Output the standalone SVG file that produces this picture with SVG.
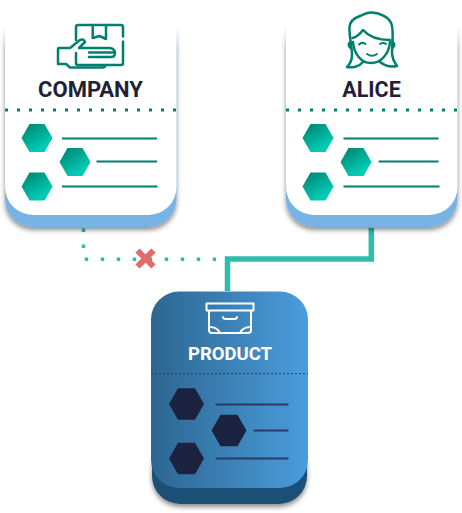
<svg xmlns="http://www.w3.org/2000/svg" width="462" height="513" viewBox="0 0 462 513">
<style>
.t{font-family:Roboto,"Liberation Sans",sans-serif;font-weight:700;text-anchor:middle}
.ic{fill:none;stroke:#007f6f;stroke-linecap:round;stroke-linejoin:round}
.ln{stroke:#007f6f;stroke-width:2;fill:none}
.dln{stroke:#2b3a62;stroke-width:2;fill:none}
.dot{stroke:#007f6f;stroke-width:3;stroke-dasharray:3 9;fill:none}
.wi{fill:none;stroke:#fff;stroke-width:2;stroke-linecap:round;stroke-linejoin:round}
</style>
<defs>
<linearGradient id="hx" x1="0.15" y1="0" x2="0.8" y2="1"><stop offset="0" stop-color="#008470"/><stop offset="0.8" stop-color="#00c9b5"/></linearGradient>
<linearGradient id="pr" x1="0" y1="0" x2="1" y2="0"><stop offset="0" stop-color="#2d6690"/><stop offset="1" stop-color="#4a9ddd"/></linearGradient>
<linearGradient id="fade" x1="0" y1="0" x2="0" y2="1"><stop offset="0.5" stop-color="#fff"/><stop offset="1" stop-color="#fff" stop-opacity="0"/></linearGradient>
<filter id="sh" x="-15%" y="-15%" width="130%" height="130%"><feDropShadow dx="0" dy="3" stdDeviation="2.5" flood-color="#000" flood-opacity="0.45"/></filter>
<polygon id="h" points="-15.5,0 -7.5,-14 7.5,-14 15.5,0 7.5,14 -7.5,14"/>
<polygon id="dh" points="-17.5,0 -8.5,-15.7 8.5,-15.7 17.5,0 8.500,15.7 -8.5,15.7"/>
</defs>

<g id="connectors">
<path d="M83.500 228.500V259.300H216" fill="none" stroke="#2dbdaa" stroke-width="3.500" stroke-dasharray="3.500 12.500"/>
<path d="M227.500 291V259H371.300V228" fill="none" stroke="#2dbdaa" stroke-width="5.500"/>
<path d="M137.500 250.500L153.500 266.500M153.500 250.500L137.500 266.500" stroke="#e26a6a" stroke-width="6" fill="none"/>
</g>

<g id="company">
<rect x="5" y="-10" width="171.500" height="237" rx="28" fill="#78b3e6" filter="url(#sh)"/>
<rect x="5" y="-10" width="171.500" height="225" rx="28" fill="#fff"/>
<rect x="0" y="0" width="182" height="50" fill="url(#fade)"/>
<rect x="4" y="-2" width="174" height="4" fill="#fff"/>
<g class="ic" stroke-width="2.500">
<path d="M76 40V27Q76 25 78 25H121Q123 25 123 27V36.500M123 41.500V63Q123 65 121 65H78Q76 65 76 63V53"/>
<path d="M92.700 25V38L99.500 36L106 39V25"/>
<path d="M58 64V49Q58 48 59 48H70L80 40Q84 38.500 85 42L79 48H110Q115 49 115 53Q115 57 111 57H89M89 52.500H113M58 64H66L70 67.500H102Q105.500 67.500 105.500 65"/>
</g>
<text class="t" x="90.500" y="97" font-size="22" fill="#221f3a">COMPANY</text>
<path class="dot" d="M5 110H177"/>
<use href="#h" x="37" y="138" fill="url(#hx)"/>
<use href="#h" x="75" y="162" fill="url(#hx)"/>
<use href="#h" x="37" y="186.500" fill="url(#hx)"/>
<path class="ln" d="M62 138.500H157M96.500 161.500H157M62 186.500H157.500"/>
</g>

<g id="alice">
<rect x="286" y="-10" width="171.500" height="237" rx="28" fill="#78b3e6" filter="url(#sh)"/>
<rect x="286" y="-10" width="171.500" height="225" rx="28" fill="#fff"/>
<rect x="281" y="0" width="181" height="50" fill="url(#fade)"/>
<rect x="284" y="-2" width="176" height="4" fill="#fff"/>
<g class="ic" stroke-width="2.500">
<path d="M360 16C354 18 350 21 349.500 27C349 36 352 46 352 55C352 60 350 64 347 67C352 68 359 67 363 62"/>
<path d="M360 16C364 15 366 12 372 12.500C380 13 389 17 391.500 24C394 32 392 44 392 52C392 58 394 62 397 66C392 67 385 66 380 62"/>
<path d="M352.500 38C357 37 360 34 363 30C369 37 380 40 390 40"/>
<path d="M353 42C354 54 361 63 371 63C381 63 389 54 390 42"/>
<path d="M350.500 42Q347 44 350.500 48M392.500 42Q396 44 392.500 48"/>
</g>
<g class="ic" stroke-width="2">
<path d="M359 44.500Q362 41.500 365.500 44M380 44Q383 42 386 44"/>
<path d="M367 54Q372 57.500 377 54"/>
</g>
<text class="t" x="371.500" y="97" font-size="21.500" fill="#221f3a">ALICE</text>
<path class="dot" d="M286 110H458"/>
<use href="#h" x="318" y="138" fill="url(#hx)"/>
<use href="#h" x="356" y="162" fill="url(#hx)"/>
<use href="#h" x="318" y="186.500" fill="url(#hx)"/>
<path class="ln" d="M343.500 138.500H438.500M378.500 161.500H438.500M343.500 186.500H439.500"/>
</g>

<g id="product">
<rect x="152" y="440" width="155" height="64" rx="28" fill="#1c4f76" filter="url(#sh)"/>
<rect x="151" y="291.500" width="157" height="196.500" rx="28" fill="url(#pr)"/>
<g class="wi">
<rect x="206.500" y="303.500" width="47" height="7"/>
<path d="M209 311V330Q209 333 212 333H248Q251 333 251 330V311"/>
<path d="M223 317Q223 319 226 319H234Q237 319 237 317"/>
<path d="M210 327Q217 327 220 333M250 327Q243 327 240 333"/>
</g>
<text class="t" x="230" y="360" font-size="18.500" fill="#fff">PRODUCT</text>
<path d="M151 373.700H308" stroke="#1f3f66" stroke-width="1" stroke-dasharray="2 2" fill="none"/>
<use href="#dh" x="186.500" y="404" fill="#1c2340"/>
<use href="#dh" x="229" y="430.500" fill="#1c2340"/>
<use href="#dh" x="186.500" y="458.500" fill="#1c2340"/>
<path class="dln" d="M215.500 404.500H288.500M253.500 430.500H288.500M215.500 458.500H288.500"/>
</g>
</svg>
